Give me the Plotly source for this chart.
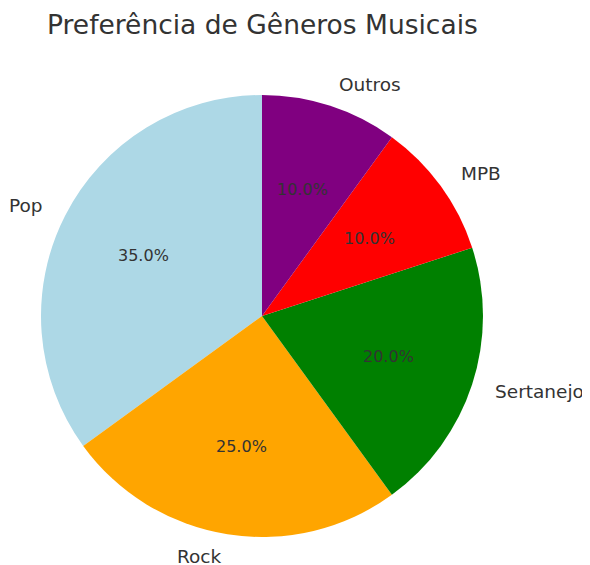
import math
import plotly.graph_objects as go

generos = ["Pop", "Rock", "Sertanejo", "MPB", "Outros"]
percentuais = [35, 25, 20, 10, 10]
cores = ["#ADD8E6", "#FFA500", "#008000", "#FF0000", "#800080"]

W, H = 590, 565
OFF = 8  # page body margin of the browser
cx, cy, r = 262 - OFF, 316 - OFF, 221  # pie centre/radius in pixels

total = sum(percentuais)
# plotly's counterclockwise pies put the first slice clockwise of the start;
# rotate back by its span so the first slice starts at 12 o'clock going CCW
rot = -360.0 * percentuais[0] / total

fig = go.Figure(go.Pie(
    labels=generos, values=percentuais, sort=False,
    direction="counterclockwise", rotation=rot,
    marker=dict(colors=cores, line=dict(width=0)),
    textinfo="none", hoverinfo="label+percent", showlegend=False,
    domain=dict(x=[(cx - r) / W, (cx + r) / W], y=[1 - (cy + r) / H, 1 - (cy - r) / H]),
))

ang = 90.0
ann = []
for g, v in zip(generos, percentuais):
    span = 360.0 * v / total
    mid = math.radians(ang + span / 2)
    ang += span
    lx = cx + 1.1 * r * math.cos(mid)
    ly = cy - 1.1 * r * math.sin(mid)
    ann.append(dict(x=lx / W, y=1 - ly / H, xref="paper", yref="paper", text=g,
                    showarrow=False, xanchor="right" if math.cos(mid) < 0 else "left",
                    yanchor="middle", font=dict(size=18.5, color="#333333", family="DejaVu Sans")))
    px = cx + 0.6 * r * math.cos(mid)
    py = cy - 0.6 * r * math.sin(mid)
    ann.append(dict(x=px / W, y=1 - py / H, xref="paper", yref="paper", text=f"{100*v/total:.1f}%",
                    showarrow=False, xanchor="center", yanchor="middle",
                    font=dict(size=16, color="#333333", family="DejaVu Sans")))

ann.append(dict(x=cx / W, y=1 - (25 - OFF) / H, xref="paper", yref="paper",
                text="Preferência de Gêneros Musicais", showarrow=False,
                xanchor="center", yanchor="middle",
                font=dict(size=26.5, color="#333333", family="DejaVu Sans")))

fig.update_layout(width=W, height=H, margin=dict(l=0, r=0, t=0, b=0),
                  paper_bgcolor="white", plot_bgcolor="white", annotations=ann)
fig.write_html("out.html")
